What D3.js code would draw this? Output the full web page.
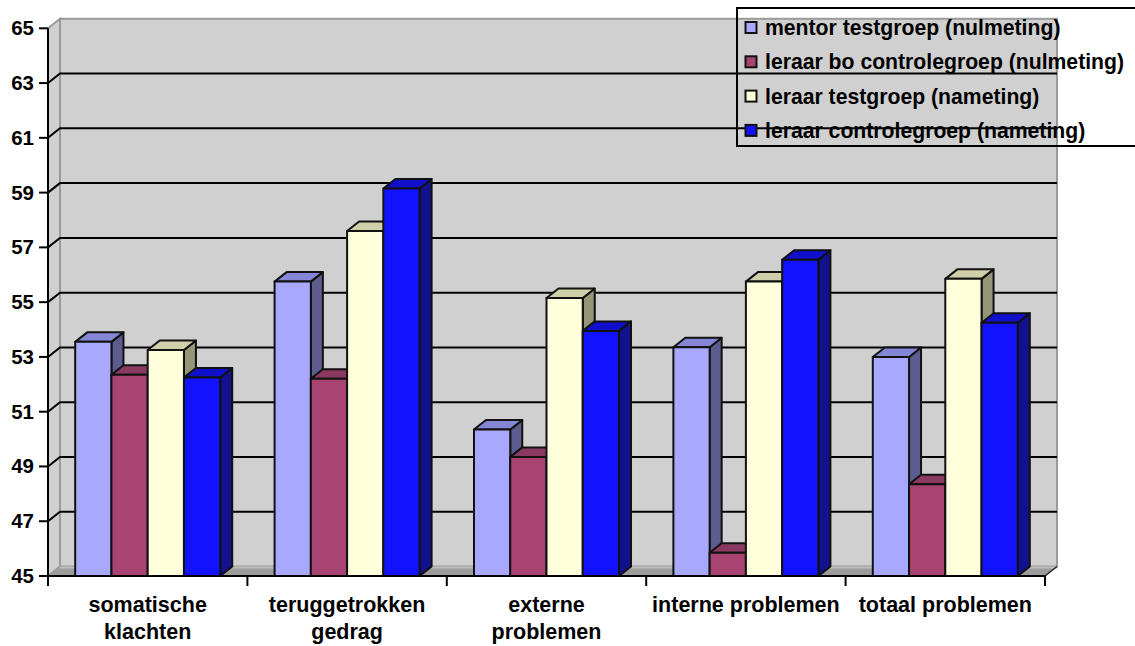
<!DOCTYPE html>
<html>
<head>
<meta charset="utf-8">
<script src="https://cdn.jsdelivr.net/npm/d3@7"></script>
<style>
  html, body { margin: 0; padding: 0; background: #ffffff; }
  svg { display: block; }
  text { font-family: Arial, "Liberation Sans", sans-serif; font-weight: bold; fill: #000; }
</style>
</head>
<body>
<svg id="chart" width="1135" height="646"></svg>
<script>
// Categories (two-line axis labels where the original wraps)
const categories = ["somatische klachten", "teruggetrokken gedrag", "externe problemen", "interne problemen", "totaal problemen"];
const categoryLines = [["somatische", "klachten"], ["teruggetrokken", "gedrag"], ["externe", "problemen"], ["interne problemen"], ["totaal problemen"]];

// Series names
const seriesNames = [
  "mentor testgroep (nulmeting)",
  "leraar bo controlegroep (nulmeting)",
  "leraar testgroep (nameting)",
  "leraar controlegroep (nameting)"
];

// Mean scores per category
const mentorTestNul = [53.55, 55.75, 50.35, 53.35, 53.0];
const leraarBoControleNul = [52.35, 52.2, 49.35, 45.85, 48.35];
const leraarTestNa = [53.25, 57.6, 55.15, 55.75, 55.85];
const leraarControleNa = [52.25, 59.15, 53.95, 56.55, 54.25];

// Value axis ticks
const yTicks = [45, 47, 49, 51, 53, 55, 57, 59, 61, 63, 65];

const seriesValues = [mentorTestNul, leraarBoControleNul, leraarTestNa, leraarControleNa];

// Face colours: front, top, side
const palette = [
  { front: "#a8a8ff", top: "#8686d6", side: "#5c5c8e" },
  { front: "#a84472", top: "#8a3a60", side: "#5e2848" },
  { front: "#ffffdc", top: "#cfcfa9", side: "#959578" },
  { front: "#1212ff", top: "#1010cc", side: "#12128e" }
];

const svg = d3.select("#chart");

// Plot frame (front plane) and 3D depth offset
const left = 48, right = 1045;
const dx = 12, dy = -9.5;

const y = d3.scaleLinear().domain([45, 65]).range([576, 28.3]);
const x0 = d3.scaleBand().domain(categories).range([left, right]).paddingInner(0).paddingOuter(0);
const x1 = d3.scaleBand().domain(seriesNames).range([0, x0.bandwidth()]).paddingInner(0).paddingOuter(0.75);

const yBase = y(45), yTop = y(65);
const wallColor = "#d0d0d0";
const edgeGray = "#9a9a9a";

// Back wall
svg.append("rect")
  .attr("x", left + dx).attr("y", yTop + dy)
  .attr("width", right - left).attr("height", yBase - yTop)
  .attr("fill", wallColor).attr("stroke", edgeGray).attr("stroke-width", 2);

// Left side wall
svg.append("path")
  .attr("d", `M${left},${yBase} L${left},${yTop} L${left + dx},${yTop + dy} L${left + dx},${yBase + dy} Z`)
  .attr("fill", wallColor).attr("stroke", edgeGray).attr("stroke-width", 2);

// Floor
svg.append("path")
  .attr("d", `M${left},${yBase} L${left + dx},${yBase + dy} L${right + dx},${yBase + dy} L${right},${yBase} Z`)
  .attr("fill", "#9c9c9c").attr("stroke", "none");
svg.append("line")
  .attr("x1", left + dx).attr("x2", right + dx)
  .attr("y1", yBase + dy + 1).attr("y2", yBase + dy + 1)
  .attr("stroke", "#bdbdbd").attr("stroke-width", 2);
svg.append("line")
  .attr("x1", right).attr("y1", yBase).attr("x2", right + dx).attr("y2", yBase + dy)
  .attr("stroke", "#222").attr("stroke-width", 1.5);

// Gridlines along side and back walls
const grid = svg.append("g");
yTicks.filter(t => t > 45 && t < 65).forEach(t => {
  const yy = y(t);
  grid.append("path")
    .attr("d", `M${left},${yy} L${left + dx},${yy + dy} L${right + dx},${yy + dy}`)
    .attr("fill", "none").attr("stroke", "#000").attr("stroke-width", 2);
});

// Bars
const barsG = svg.append("g");
categories.forEach((cat, ci) => {
  seriesNames.forEach((s, si) => {
    const v = seriesValues[si][ci];
    const xa = x0(cat) + x1(s);
    const xb = xa + x1.bandwidth();
    const yv = y(v);
    const col = palette[si];
    const g = barsG.append("g")
      .attr("stroke", "#111").attr("stroke-width", 2).attr("stroke-linejoin", "round");
    // side face
    g.append("path")
      .attr("d", `M${xb},${yBase} L${xb},${yv} L${xb + dx},${yv + dy} L${xb + dx},${yBase + dy} Z`)
      .attr("fill", col.side);
    // top face
    g.append("path")
      .attr("d", `M${xa},${yv} L${xa + dx},${yv + dy} L${xb + dx},${yv + dy} L${xb},${yv} Z`)
      .attr("fill", col.top);
    // front face
    g.append("rect")
      .attr("x", xa).attr("y", yv)
      .attr("width", xb - xa).attr("height", yBase - yv)
      .attr("fill", col.front);
  });
});

// Value axis
const yAxisG = svg.append("g");
yAxisG.append("line")
  .attr("x1", left).attr("x2", left).attr("y1", yTop).attr("y2", yBase + 10)
  .attr("stroke", "#000").attr("stroke-width", 2);
yTicks.forEach(t => {
  const yy = y(t);
  yAxisG.append("line")
    .attr("x1", left - 9).attr("x2", left).attr("y1", yy).attr("y2", yy)
    .attr("stroke", "#000").attr("stroke-width", 2);
  yAxisG.append("text")
    .attr("x", 34).attr("y", yy + 7)
    .attr("text-anchor", "end")
    .attr("font-size", 20.5)
    .text(t);
});

// Category axis
const xAxisG = svg.append("g");
xAxisG.append("line")
  .attr("x1", left).attr("x2", right).attr("y1", yBase).attr("y2", yBase)
  .attr("stroke", "#000").attr("stroke-width", 2);
const boundaries = categories.map(c => x0(c)).concat([right]);
boundaries.forEach(bx => {
  xAxisG.append("line")
    .attr("x1", bx).attr("x2", bx).attr("y1", yBase).attr("y2", yBase + 10)
    .attr("stroke", "#000").attr("stroke-width", 2);
});
categories.forEach((cat, ci) => {
  const cx = x0(cat) + x0.bandwidth() / 2;
  const t = xAxisG.append("text")
    .attr("x", cx).attr("y", 612)
    .attr("text-anchor", "middle")
    .attr("font-size", 21.5);
  categoryLines[ci].forEach((line, li) => {
    t.append("tspan").attr("x", cx).attr("dy", li === 0 ? 0 : 27).text(line);
  });
});

// Legend
const legend = svg.append("g");
legend.append("rect")
  .attr("x", 737).attr("y", 8).attr("width", 420).attr("height", 138)
  .attr("fill", "none").attr("stroke", "#000").attr("stroke-width", 2);
seriesNames.forEach((name, i) => {
  const cy = 28 + i * 34.3;
  legend.append("rect")
    .attr("x", 745.5).attr("y", cy - 6).attr("width", 11).attr("height", 11)
    .attr("fill", palette[i].front).attr("stroke", "#111").attr("stroke-width", 2);
  legend.append("text")
    .attr("x", 765).attr("y", cy + 7)
    .attr("font-size", 21.2)
    .text(name);
});
</script>
</body>
</html>
